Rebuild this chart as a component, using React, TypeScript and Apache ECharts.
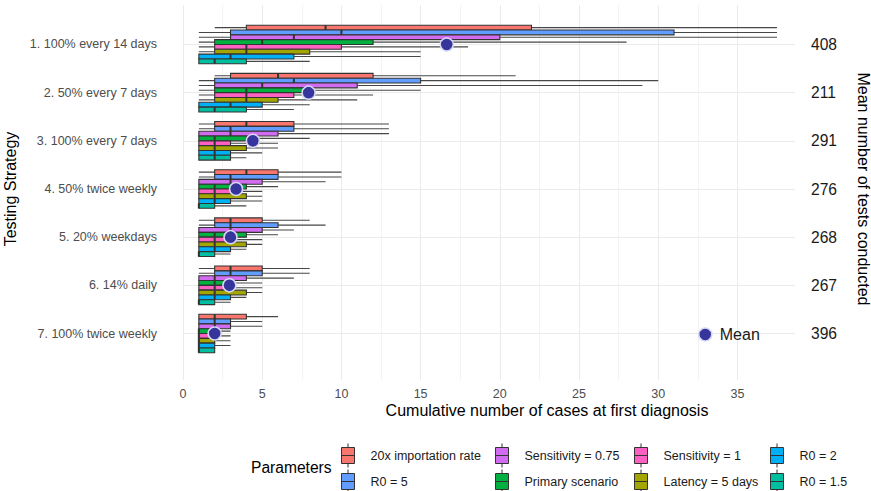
import React, { useEffect, useRef } from 'react';
import * as echarts from 'echarts';

const STRATEGIES = [
  '1. 100% every 14 days',
  '2. 50% every 7 days',
  '3. 100% every 7 days',
  '4. 50% twice weekly',
  '5. 20% weekdays',
  '6. 14% daily',
  '7. 100% twice weekly',
];
const TESTS = ['408', '211', '291', '276', '268', '267', '396'];
const MEANS = [16.65, 7.93, 4.41, 3.35, 3.0, 2.93, 2.0];

const PARAMS = [
  '20x importation rate',
  'R0 = 5',
  'Sensitivity = 0.75',
  'Primary scenario',
  'Sensitivity = 1',
  'Latency = 5 days',
  'R0 = 2',
  'R0 = 1.5',
];
const COLORS = ['#F8766D', '#619CFF', '#D16CF0', '#00B140', '#FF61C3', '#A3A500', '#00B0F6', '#00BFA0'];

// [low whisker, Q1, median, Q3, high whisker] per strategy
const IMPORT_20X = [[2, 4, 9, 22, 40], [2, 3, 6, 12, 21], [1, 2, 4, 7, 13], [1, 2, 4, 6, 10], [1, 2, 3, 5, 8], [1, 2, 3, 5, 8], [1, 1, 2, 4, 6]];
const R0_5 = [[1, 3, 10, 31, 40], [1, 2, 7, 15, 30], [1, 2, 3, 7, 13], [1, 2, 3, 6, 10], [1, 2, 3, 6, 9], [1, 2, 3, 5, 8], [1, 1, 2, 3, 5]];
const SENS_075 = [[1, 3, 7, 20, 40], [1, 2, 5, 11, 29], [1, 1, 3, 6, 13], [1, 1, 3, 5, 9], [1, 1, 3, 5, 7], [1, 1, 2, 4, 7], [1, 1, 2, 3, 5]];
const PRIMARY = [[1, 2, 5, 12, 28], [1, 2, 4, 8, 15], [1, 1, 2, 4, 8], [1, 1, 2, 4, 6], [1, 1, 2, 4, 6], [1, 1, 2, 3, 5], [1, 1, 1, 2, 3]];
const SENS_1 = [[1, 2, 4, 10, 18], [1, 2, 4, 7, 12], [1, 1, 2, 3, 6], [1, 1, 2, 3, 5], [1, 1, 2, 3, 5], [1, 1, 2, 3, 5], [1, 1, 1, 2, 3]];
const LATENCY_5 = [[1, 2, 4, 8, 15], [1, 2, 4, 6, 11], [1, 1, 2, 4, 6], [1, 1, 2, 4, 5], [1, 1, 2, 4, 5], [1, 1, 2, 4, 5], [1, 1, 1, 2, 3]];
const R0_2 = [[1, 1, 3, 7, 15], [1, 1, 3, 5, 8], [1, 1, 2, 3, 5], [1, 1, 2, 3, 5], [1, 1, 2, 3, 4], [1, 1, 2, 3, 4], [1, 1, 1, 2, 3]];
const R0_15 = [[1, 1, 2, 4, 8], [1, 1, 2, 4, 7], [1, 1, 2, 3, 4], [1, 1, 1, 2, 4], [1, 1, 1, 2, 3], [1, 1, 1, 2, 3], [1, 1, 1, 2, 2]];
const BOX_DATA = [IMPORT_20X, R0_5, SENS_075, PRIMARY, SENS_1, LATENCY_5, R0_2, R0_15];

const X_TICKS_STEP = 2.5;
const X_MAX = 37.5;

const FONT = '"Liberation Sans", Arial, sans-serif';
const BOX_ICON = 'path://M6.5,0L6.5,4M0,4L13,4L13,20L0,20ZM0,12L13,12M6.5,20L6.5,24';
const LEG_LEFT = [341, 495, 634, 770];

function makeRender(pIdx: number) {
  return (params: any, api: any) => {
    const cat = api.value(0);
    const lo = api.value(1), q1 = api.value(2), md = api.value(3), q3 = api.value(4), hi = api.value(5);
    const c0 = api.coord([0, cat]);
    const c1 = api.coord([0, cat + 1]);
    const band = Math.abs(c1[1] - c0[1]);
    const h = (band * 0.8) / PARAMS.length;
    const top = c0[1] - band * 0.4 + pIdx * h;
    const mid = top + h / 2;
    const x = (v: number) => api.coord([v, cat])[0];
    const children: any[] = [];
    if (lo < q1) children.push({ type: 'line', shape: { x1: x(lo), y1: mid, x2: x(q1), y2: mid }, style: { stroke: '#474747', lineWidth: 1.1 } });
    if (hi > q3) children.push({ type: 'line', shape: { x1: x(q3), y1: mid, x2: x(hi), y2: mid }, style: { stroke: '#474747', lineWidth: 1.1 } });
    children.push({ type: 'rect', shape: { x: x(q1), y: top, width: x(q3) - x(q1), height: h }, style: { fill: COLORS[pIdx], stroke: '#333', lineWidth: 1.1 } });
    children.push({ type: 'line', shape: { x1: x(md), y1: top, x2: x(md), y2: top + h }, style: { stroke: '#333', lineWidth: 2 } });
    return { type: 'group', children };
  };
}

export default function App() {
  const ref = useRef<HTMLDivElement>(null);
  useEffect(() => {
    const chart = echarts.init(ref.current!, null, { renderer: 'svg' });
    const splitColors: string[] = [];
    for (let v = 0; v <= X_MAX + 1e-9; v += X_TICKS_STEP) splitColors.push(v % 5 === 0 ? '#EBEBEB' : '#F3F3F3');

    const boxSeries = PARAMS.map((name, pIdx) => ({
      name,
      type: 'custom',
      xAxisIndex: 1,
      yAxisIndex: 1,
      clip: true,
      z: 3,
      itemStyle: { color: COLORS[pIdx], borderColor: '#333', borderWidth: 1 },
      encode: { y: 0, x: [1, 2, 3, 4, 5] },
      renderItem: makeRender(pIdx),
      data: BOX_DATA[pIdx].map((d, i) => [i, ...d]),
    }));

    const option: any = {
      animation: false,
      backgroundColor: '#fff',
      textStyle: { fontFamily: FONT },
      grid: [
        { left: 183, right: 94, top: 5, height: 375, outerBoundsMode: 'none', containLabel: false },
        { left: 183, right: 94, top: 20.4, height: 337.2, outerBoundsMode: 'none', containLabel: false },
      ],
      xAxis: [
        {
          type: 'value', gridIndex: 0, min: 0, max: X_MAX, interval: X_TICKS_STEP,
          axisLine: { show: false }, axisTick: { show: false },
          axisLabel: { color: '#4D4D4D', fontSize: 12.5, margin: 7, formatter: (v: number) => (v % 5 === 0 ? String(v) : '') },
          splitLine: { show: true, showMaxLine: false, lineStyle: { color: splitColors, width: 1 } },
        },
        { type: 'value', gridIndex: 1, min: 0, max: X_MAX, show: false },
      ],
      yAxis: [
        { type: 'value', gridIndex: 0, show: false },
        {
          type: 'category', gridIndex: 1, data: STRATEGIES, inverse: true, offset: 18,
          axisLine: { show: false },
          axisTick: { show: true, inside: true, alignWithLabel: true, length: 612, lineStyle: { color: '#EBEBEB', width: 1 } },
          axisLabel: { color: '#4D4D4D', fontSize: 12.5, margin: 8 },
          splitLine: { show: false },
          name: 'Testing Strategy', nameLocation: 'middle', nameRotate: 90, nameGap: 141,
          nameTextStyle: { fontSize: 16, color: '#000' },
        },
        {
          type: 'category', gridIndex: 1, data: TESTS, inverse: true, position: 'right',
          axisLine: { show: false }, axisTick: { show: false },
          axisLabel: { color: '#1A1A1A', fontSize: 15.6, margin: 34 },
          splitLine: { show: false },
          name: 'Mean number of tests conducted', nameLocation: 'middle', nameRotate: -90, nameGap: 78,
          nameTextStyle: { fontSize: 16, color: '#000' },
        },
      ],
      legend: [
        ...[0, 1, 2, 3].map((c) => ({
          orient: 'vertical', left: LEG_LEFT[c], top: 443, height: 80, padding: 0, itemGap: 1,
          itemWidth: 13, itemHeight: 24, icon: BOX_ICON, selectedMode: false,
          data: [PARAMS[2 * c], PARAMS[2 * c + 1]],
          itemStyle: { borderColor: '#333', borderWidth: 1 },
          textStyle: { fontSize: 12.5, color: '#1A1A1A', padding: [0, 0, 0, 11], fontFamily: FONT },
        })),
        {
          left: 698, top: 326.5, padding: 0, itemWidth: 13, itemHeight: 13, selectedMode: false,
          data: [{ name: 'Mean', icon: 'circle' }],
          itemStyle: { borderColor: '#D8D8F5', borderWidth: 1.5 },
          textStyle: { fontSize: 16, color: '#1A1A1A', fontFamily: FONT, padding: [0, 0, 0, 3] },
        },
      ],
      graphic: [
        { type: 'text', x: 547, y: 410, silent: true, style: { text: 'Cumulative number of cases at first diagnosis', fontSize: 16, fill: '#000', align: 'center', verticalAlign: 'middle', fontFamily: FONT } },
        { type: 'text', x: 251, y: 467, silent: true, style: { text: 'Parameters', fontSize: 15.6, fill: '#000', align: 'left', verticalAlign: 'middle', fontFamily: FONT } },
      ],
      series: [
        ...boxSeries,
        {
          name: 'Mean', type: 'scatter', xAxisIndex: 1, yAxisIndex: 1, z: 5,
          symbolSize: 13,
          itemStyle: { color: '#35359B', borderColor: '#D8D8F5', borderWidth: 1.5, opacity: 1 },
          data: MEANS.map((m, i) => [m, i]),
        },
      ],
    };
    chart.setOption(option);
    return () => chart.dispose();
  }, []);
  return <div ref={ref} style={{ position: 'fixed', left: 0, top: 0, width: 871, height: 491, background: '#fff' }} />;
}
